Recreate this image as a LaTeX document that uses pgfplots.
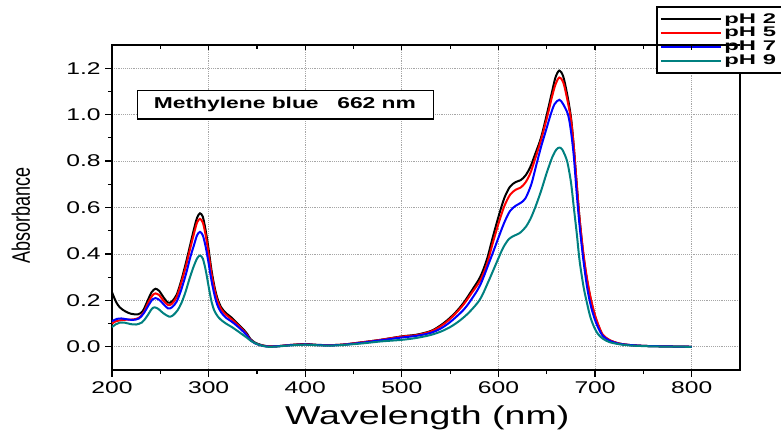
\documentclass[border=0pt]{standalone}
\usepackage{fontspec}
\setmainfont{Liberation Sans}
\newfontfamily\widesf[FakeStretch=1.45]{Liberation Sans}
\newfontfamily\legsf[FakeStretch=1.7]{Liberation Sans}
\usepackage{graphicx}
\usepackage{pgfplots}
\pgfplotsset{compat=1.18}
\definecolor{phteal}{RGB}{0,128,128}

\begin{document}
\begin{tikzpicture}
\begin{axis}[
  name=main, at={(0,0)}, anchor=south west,
  scale only axis, width=471pt, height=243.75pt,
  xmin=200, xmax=850, ymin=-0.1, ymax=1.3,
  xtick={200,300,400,500,600,700,800},
  ytick={0,0.2,0.4,0.6,0.8,1.0,1.2},
  minor x tick num=1, minor y tick num=1,
  xtick pos=left, ytick pos=left, tick align=outside,
  major tick length=5pt, minor tick length=3pt,
  axis line style={line width=1.1pt},
  tick style={line width=0.9pt, black},
  grid=major, grid style={densely dotted, gray!70, line width=0.6pt},
  /pgf/number format/assume math mode=true,
  tick label style={font=\widesf\fontsize{12.75}{14}\selectfont},
  yticklabel style={/pgf/number format/.cd, fixed, fixed zerofill, precision=1},
  xticklabel style={/pgf/number format/.cd, fixed, precision=0},
  xlabel={\widesf\fontsize{19.4}{22}\selectfont Wavelength (nm)},
  xlabel style={at={(axis description cs:0.502,-0.146)}, anchor=center},
  ylabel={\scalebox{1}[1.4]{\fontsize{13.5}{15}\selectfont Absorbance}},
  ylabel style={at={(axis description cs:-0.145,0.474)}, anchor=center},
  legend cell align=left,
  legend style={name=leg, at={(axis description cs:0.868,1.117)}, anchor=north west,
    font=\legsf\bfseries\fontsize{10.5}{10.5}\selectfont, draw=none, fill=white,
    row sep=-2.3pt, inner xsep=2pt, inner ysep=2.5pt},
  legend image code/.code={\draw[#1, line width=1.3pt, draw=.] (0pt,0pt) -- (45pt,0pt);},
  every axis plot/.append style={line width=1.5pt, smooth},
]
\addplot[black] table {
x y
200 0.235
204 0.195
208 0.17
214 0.152
220 0.142
227 0.14
232 0.155
237 0.2
241 0.235
245 0.25
249 0.24
253 0.215
258 0.19
262 0.195
267 0.225
272 0.29
277 0.37
281 0.44
285 0.51
288 0.555
291 0.575
294 0.56
297 0.50
300 0.42
303 0.33
306 0.26
309 0.21
313 0.17
318 0.145
324 0.125
330 0.10
336 0.075
340 0.055
343 0.035
348 0.018
355 0.007
362 0.002
370 0.002
385 0.008
400 0.012
410 0.009
425 0.007
440 0.01
460 0.02
478 0.03
500 0.045
515 0.052
530 0.068
540 0.092
548 0.118
556 0.15
564 0.19
572 0.24
581 0.30
588 0.376
594 0.47
600 0.56
606 0.64
612 0.69
618 0.71
623 0.718
628 0.738
633 0.775
638 0.83
644 0.90
650 1.00
655 1.09
659 1.16
663 1.19
667 1.165
671 1.09
675 0.99
678 0.86
681 0.70
684 0.55
688 0.39
692 0.28
696 0.195
700 0.13
704 0.085
708 0.05
715 0.028
725 0.014
735 0.008
750 0.004
770 0.002
800 0.0
};
\addlegendentry{pH 2}
\addplot[red] table {
x y
200 0.10
204 0.11
210 0.115
216 0.117
222 0.118
228 0.125
233 0.15
238 0.195
242 0.222
245 0.23
249 0.222
253 0.2
258 0.18
262 0.185
267 0.215
272 0.28
277 0.355
281 0.425
285 0.49
288 0.535
291 0.551
294 0.535
297 0.48
300 0.40
303 0.315
306 0.25
309 0.20
313 0.162
318 0.138
324 0.118
330 0.095
336 0.07
340 0.05
343 0.032
348 0.016
355 0.006
362 0.002
370 0.002
385 0.008
400 0.011
410 0.008
425 0.007
440 0.01
460 0.02
478 0.03
500 0.044
515 0.05
530 0.066
540 0.088
548 0.113
556 0.145
564 0.183
572 0.23
581 0.285
588 0.355
594 0.445
600 0.53
606 0.605
612 0.655
618 0.677
623 0.686
628 0.708
633 0.748
638 0.81
644 0.89
651 1.00
655 1.07
659 1.13
663 1.16
667 1.14
671 1.07
675 0.98
678 0.86
681 0.70
684 0.55
688 0.40
692 0.285
696 0.20
700 0.135
704 0.088
708 0.052
715 0.029
725 0.014
735 0.008
750 0.004
770 0.002
800 0.0
};
\addlegendentry{pH 5}
\addplot[blue] table {
x y
200 0.11
205 0.12
210 0.122
216 0.118
222 0.116
228 0.122
233 0.145
238 0.18
242 0.205
245 0.21
249 0.202
253 0.185
258 0.165
262 0.17
267 0.195
272 0.25
277 0.32
281 0.385
285 0.44
288 0.48
291 0.495
294 0.48
297 0.43
300 0.36
303 0.285
306 0.225
309 0.18
313 0.148
318 0.125
324 0.108
330 0.088
336 0.065
340 0.047
343 0.03
348 0.015
355 0.005
362 0.001
370 0.002
385 0.007
400 0.01
410 0.008
425 0.006
440 0.009
460 0.018
478 0.028
500 0.04
515 0.047
530 0.06
540 0.078
548 0.1
556 0.128
564 0.16
571 0.198
581 0.265
591 0.37
596 0.425
600 0.47
606 0.535
612 0.585
618 0.608
623 0.62
628 0.64
634 0.70
639 0.78
644 0.86
649 0.93
654 1.00
658 1.045
663 1.064
667 1.045
672 1.00
675 0.93
678 0.82
681 0.66
684 0.52
688 0.37
692 0.25
696 0.17
700 0.115
704 0.075
708 0.047
715 0.026
725 0.013
735 0.008
750 0.004
770 0.002
800 0.0
};
\addlegendentry{pH 7}
\addplot[phteal] table {
x y
200 0.085
204 0.097
208 0.104
213 0.104
219 0.098
225 0.096
231 0.105
236 0.13
241 0.162
244 0.17
248 0.163
253 0.145
259 0.13
263 0.135
268 0.158
272 0.19
276 0.235
280 0.29
284 0.34
288 0.38
291 0.393
294 0.38
297 0.33
300 0.26
303 0.195
306 0.155
310 0.128
314 0.112
318 0.10
324 0.085
330 0.068
336 0.05
340 0.038
344 0.025
350 0.012
356 0.004
362 0.0
370 0.001
385 0.006
400 0.009
410 0.007
425 0.005
440 0.008
460 0.015
478 0.023
500 0.03
515 0.038
529 0.05
540 0.065
550 0.085
560 0.113
570 0.15
581 0.205
590 0.285
599 0.372
605 0.428
611 0.465
617 0.48
622 0.49
628 0.515
633 0.55
638 0.60
644 0.67
650 0.75
656 0.82
660 0.85
663 0.858
666 0.85
671 0.80
675 0.71
678 0.60
681 0.49
684 0.37
688 0.26
691 0.2
695 0.13
699 0.085
703 0.055
708 0.035
715 0.02
725 0.011
735 0.006
750 0.003
770 0.001
800 0.0
};
\addlegendentry{pH 9}
\draw[fill=white, line width=0.9pt] (axis cs:226,0.981) rectangle (axis cs:532.6,1.103);
\node[anchor=center, inner sep=0pt, font=\widesf\bfseries\fontsize{11.8}{12}\selectfont]
  at (axis cs:379,1.042) {Methylene blue\hspace{14pt}662 nm};
\end{axis}
\begin{axis}[
  at={(0,0)}, anchor=south west,
  scale only axis, width=471pt, height=243.75pt,
  xmin=200, xmax=850, ymin=-0.1, ymax=1.3,
  hide y axis, axis x line*=top,
  xtick={200,300,400,500,600,700,800}, minor x tick num=1,
  xticklabels={}, tick align=inside,
  major tick length=4pt, minor tick length=3pt,
  axis line style={line width=1.1pt},
  tick style={line width=0.9pt, black},
]
\end{axis}
\draw[line width=1.1pt] (leg.north west) rectangle ([xshift=20pt]leg.south east);
\pgfresetboundingbox
\path[use as bounding box] (-84pt,-50.25pt) rectangle (501.75pt,277.5pt);
\end{tikzpicture}
\end{document}
